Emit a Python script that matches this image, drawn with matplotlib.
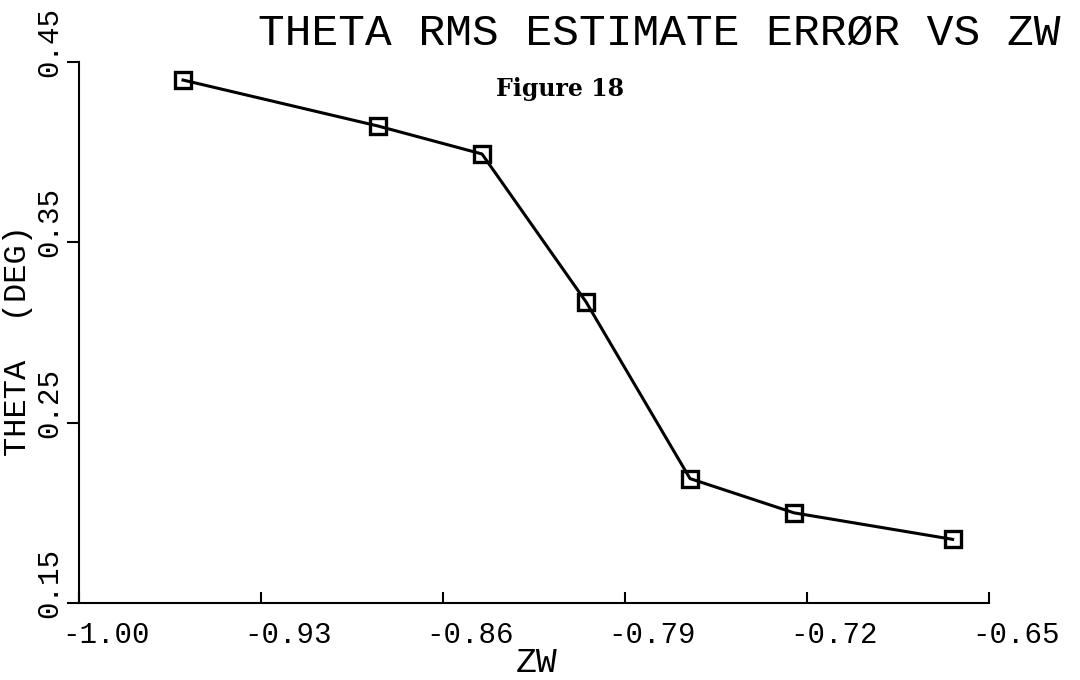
import numpy as np
import matplotlib.pyplot as plt
from matplotlib.transforms import ScaledTranslation

# Valores
zw = [-0.960, -0.885, -0.845, -0.805, -0.765, -0.725, -0.664]
theta_rms = [0.440, 0.4145, 0.399, 0.317, 0.219, 0.200, 0.1853]

x_ticks = [-1.00, -0.93, -0.86, -0.79, -0.72, -0.65]
x_tick_labels = ['-1.00', '-0.93', '-0.86', '-0.79', '-0.72', '-0.65']
y_ticks = [0.15, 0.25, 0.35, 0.45]
y_tick_labels = ['0.15', '0.25', '0.35', '0.45']

mono = 'Liberation Mono'

fig = plt.figure(figsize=(10.8, 6.8), dpi=100)
ax = fig.add_axes([79 / 1080, 1 - 603 / 680, 910 / 1080, 541 / 680])

ax.plot(zw, theta_rms, color='black', linewidth=2.2, marker='s', markersize=11,
        markerfacecolor='none', markeredgecolor='black', markeredgewidth=2.4)

ax.set_xlim(-1.00, -0.65)
ax.set_ylim(0.15, 0.45)

for lado in ['top', 'right']:
    ax.spines[lado].set_visible(False)
for lado in ['left', 'bottom']:
    ax.spines[lado].set_linewidth(1.5)

ax.set_xticks(x_ticks)
ax.set_xticklabels(x_tick_labels, fontfamily=mono, fontsize=21)
ax.set_yticks(y_ticks)
ax.set_yticklabels(y_tick_labels, fontfamily=mono, fontsize=21, rotation=90)

ax.tick_params(axis='x', direction='in', length=8, width=1.5, pad=13)
ax.tick_params(axis='y', direction='out', length=9, width=1.5, pad=2)

# Rótulos deslocados como no traçador original
desl_x = ScaledTranslation(-17 / 100, 0, fig.dpi_scale_trans)
for lab in ax.get_xticklabels():
    lab.set_horizontalalignment('left')
    lab.set_transform(lab.get_transform() + desl_x)

desl_y = ScaledTranslation(0, -15 / 100, fig.dpi_scale_trans)
for lab in ax.get_yticklabels():
    lab.set_verticalalignment('bottom')
    lab.set_horizontalalignment('right')
    lab.set_transform(lab.get_transform() + desl_y)

fig.text(258 / 1080, 1 - 45 / 680, 'THETA RMS ESTIMATE ERRØR VS ZW', fontfamily=mono,
         fontsize=32, ha='left', va='baseline')
fig.text(560 / 1080, 1 - 89 / 680, 'Figure 18', fontfamily='DejaVu Serif',
         fontweight='bold', fontsize=17, ha='center', va='center')
fig.text(18 / 1080, 1 - 340 / 680, 'THETA  (DEG)', fontfamily=mono, fontsize=23,
         rotation=90, ha='center', va='center')
fig.text(537 / 1080, 1 - 672 / 680, 'ZW', fontfamily=mono, fontsize=25,
         ha='center', va='baseline')

plt.savefig('out.png', dpi=100)
